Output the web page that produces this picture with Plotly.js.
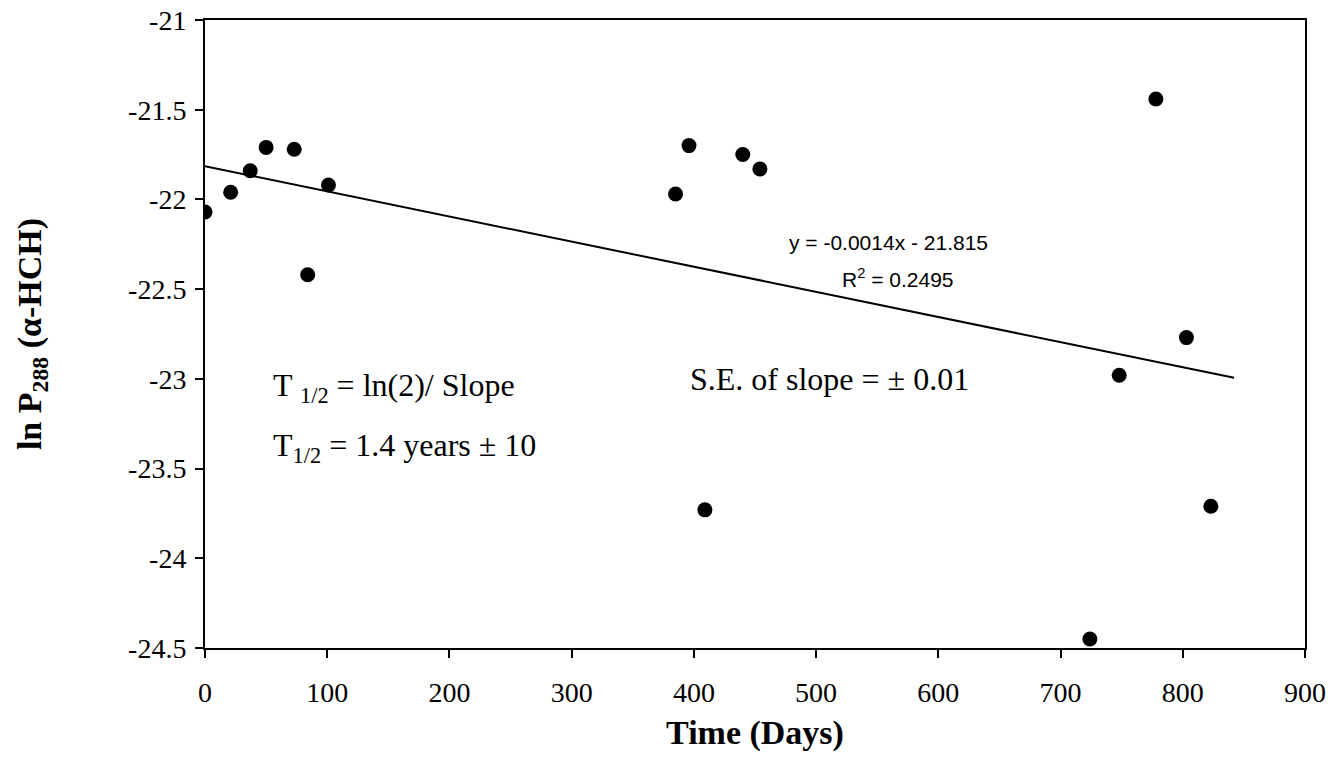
<!DOCTYPE html>
<html>
<head>
<meta charset="utf-8">
<script src="https://cdn.plot.ly/plotly-3.0.1.min.js"></script>
<style>
html,body{margin:0;padding:0;background:#fff;}
#chart{width:1335px;height:764px;}
</style>
</head>
<body>
<div id="chart"></div>
<script>
const timeDays = [0, 21, 37, 50, 73, 84, 101, 385, 396, 409, 440, 454, 724, 748, 778, 803, 823];
const lnP = [-22.07, -21.96, -21.84, -21.71, -21.72, -22.42, -21.92, -21.97, -21.70, -23.73, -21.75, -21.83, -24.45, -22.98, -21.44, -22.77, -23.71];
const trendX = [0, 842];
const trendY = [-21.815, -22.994];
const xTicks = [0, 100, 200, 300, 400, 500, 600, 700, 800, 900];
const yTicks = [-21, -21.5, -22, -22.5, -23, -23.5, -24, -24.5];

const serif = "Times New Roman";
const sans = "Liberation Sans";

const data = [
  {x: trendX, y: trendY, mode: 'lines', line: {color: '#000', width: 2}, showlegend: false, hoverinfo: 'skip'},
  {x: timeDays, y: lnP, mode: 'markers', marker: {color: '#000', size: 15}, showlegend: false}
];

const layout = {
  width: 1335, height: 764,
  margin: {l: 205, r: 30, t: 20, b: 116},
  paper_bgcolor: '#fff', plot_bgcolor: '#fff',
  font: {family: serif, color: '#000', size: 28},
  xaxis: {
    range: [0, 900], tickvals: xTicks, ticktext: xTicks.map(String),
    showgrid: false, zeroline: false, showline: true, linecolor: '#000', linewidth: 2, mirror: true,
    ticks: 'outside', ticklen: 8, tickwidth: 2, tickcolor: '#000', ticklabelstandoff: 10,
    tickfont: {family: serif, size: 28, color: '#000'},
    title: {text: '<b>Time (Days)</b>', font: {family: serif, size: 34, color: '#000'}, standoff: 14}
  },
  yaxis: {
    range: [-24.5, -21], tickvals: yTicks, ticktext: yTicks.map(String),
    showgrid: false, zeroline: false, showline: true, linecolor: '#000', linewidth: 2, mirror: true,
    ticks: 'outside', ticklen: 8, tickwidth: 2, tickcolor: '#000', ticklabelstandoff: 3,
    tickfont: {family: serif, size: 28, color: '#000'},
    title: {text: '<b>ln P<sub>288</sub> (α-HCH)</b>', font: {family: serif, size: 34, color: '#000'}, standoff: 76}
  },
  annotations: [
    {x: 559, y: -22.24, xref: 'x', yref: 'y', text: 'y = -0.0014x - 21.815', showarrow: false,
     font: {family: sans, size: 21, color: '#000'}},
    {x: 567, y: -22.44, xref: 'x', yref: 'y', text: 'R<sup>2</sup> = 0.2495', showarrow: false,
     font: {family: sans, size: 21, color: '#000'}},
    {x: 395, y: -23.0, xref: 'x', yref: 'y', xanchor: 'left', text: 'S.E. of slope = ± 0.01', showarrow: false,
     font: {family: serif, size: 32, color: '#000'}},
    {x: 54, y: -23.05, xref: 'x', yref: 'y', xanchor: 'left', text: 'T <sub>1/2</sub> = ln(2)/ Slope', showarrow: false,
     font: {family: serif, size: 32, color: '#000'}},
    {x: 54, y: -23.38, xref: 'x', yref: 'y', xanchor: 'left', text: 'T<sub>1/2</sub> = 1.4 years ± 10', showarrow: false,
     font: {family: serif, size: 32, color: '#000'}}
  ]
};

Plotly.newPlot('chart', data, layout, {staticPlot: true});
</script>
</body>
</html>
